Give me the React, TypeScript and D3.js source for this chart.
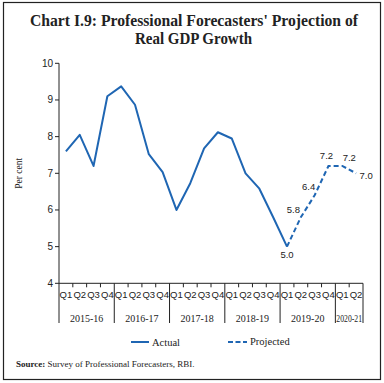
import React from "react";
import * as d3 from "d3";

const years = ["2015-16", "2016-17", "2017-18", "2018-19", "2019-20", "2020-21"];
const quartersPerYear = [4, 4, 4, 4, 4, 2];
const quarterLabels = ["Q1", "Q2", "Q3", "Q4"];
const actual = [7.6, 8.05, 7.2, 9.1, 9.37, 8.87, 7.52, 7.03, 6.0, 6.73, 7.68, 8.12, 7.95, 7.0, 6.58, 5.8, 5.0];
const projected = [5.0, 5.8, 6.4, 7.2, 7.2, 7.0];
const projectedLabels = ["5.0", "5.8", "6.4", "7.2", "7.2", "7.0"];
const yTicks = [4, 5, 6, 7, 8, 9, 10];

const W = 384, H = 383;
const left = 59, right = 363, top = 63.3, bottom = 283.3;
const blue = "#1f66b3";

export default function App() {
  const cats: { key: string; q: string; yi: number }[] = [];
  years.forEach((y, yi) => {
    for (let i = 0; i < quartersPerYear[yi]; i++) cats.push({ key: `${y}-${quarterLabels[i]}`, q: quarterLabels[i], yi });
  });
  const x = d3.scaleBand<string>().domain(cats.map((c) => c.key)).range([left, right]).padding(0);
  const y = d3.scaleLinear().domain([4, 10]).range([bottom, top]);
  const cx = (i: number) => (x(cats[i].key) as number) + x.bandwidth() / 2;

  const line = d3.line<number>().x((_, i) => cx(i)).y((d) => y(d));
  const pOffset = actual.length - 1;
  const pline = d3.line<number>().x((_, i) => cx(i + pOffset)).y((d) => y(d));

  const bw = x.bandwidth();
  const boundaries: number[] = [];
  let idx = 0;
  years.forEach((_, yi) => {
    boundaries.push(x(cats[idx].key) as number);
    idx += quartersPerYear[yi];
  });
  boundaries.push(right);

  const labelOffsets = [
    { dx: 0, dy: 8.5, anchor: "middle" },
    { dx: -7.5, dy: -8, anchor: "middle" },
    { dx: -6, dy: -9, anchor: "middle" },
    { dx: -2, dy: -10, anchor: "middle" },
    { dx: 7, dy: -8, anchor: "middle" },
    { dx: 3.5, dy: 2.5, anchor: "start" },
  ];

  const serif = "'Liberation Serif', 'DejaVu Serif', serif";
  const sans = "'Liberation Sans', 'DejaVu Sans', sans-serif";

  return (
    <svg width={W} height={H} style={{ position: "absolute", left: 0, top: 0, background: "#fff" }}>
      <rect x={3.5} y={2.5} width={377} height={377} fill="#fff" stroke="#222" strokeWidth={1.2} />
      <text x={30} y={25.7} textLength={328} lengthAdjust="spacingAndGlyphs" fontFamily={serif} fontWeight="bold" fontSize={16} fill="#222">
        Chart I.9: Professional Forecasters' Projection of
      </text>
      <text x={135} y={44.3} textLength={117} lengthAdjust="spacingAndGlyphs" fontFamily={serif} fontWeight="bold" fontSize={16} fill="#222">
        Real GDP Growth
      </text>

      {/* y axis */}
      <line x1={left} x2={left} y1={top} y2={bottom} stroke="#222" strokeWidth={1} />
      {yTicks.map((t) => (
        <g key={t}>
          <line x1={left - 4} x2={left} y1={y(t)} y2={y(t)} stroke="#222" />
          <text x={left - 6} y={y(t)} dy="0.35em" textAnchor="end" fontFamily={sans} fontSize={10} fill="#222">
            {t}
          </text>
        </g>
      ))}
      <text transform={`translate(22,${(top + bottom) / 2}) rotate(-90)`} textAnchor="middle" fontFamily={serif} fontSize={9.5} fill="#222">
        Per cent
      </text>

      {/* x axis */}
      <line x1={left} x2={right} y1={bottom} y2={bottom} stroke="#222" />
      {cats.map((c, i) =>
        i > 0 && c.q !== "Q1" ? (
          <line key={"t" + i} x1={x(c.key) as number} x2={x(c.key) as number} y1={bottom} y2={bottom + 4} stroke="#222" />
        ) : null
      )}
      {boundaries.map((b, i) => (
        <line key={"b" + i} x1={b} x2={b} y1={bottom} y2={323} stroke="#222" />
      ))}
      {cats.map((c, i) => (
        <text key={"q" + i} x={cx(i)} y={295} dy="0.35em" textAnchor="middle" fontFamily={sans} fontSize={9.5} fill="#222">
          {c.q}
        </text>
      ))}
      {years.map((yr, yi) => (
        <text
          key={yr}
          x={(boundaries[yi] + boundaries[yi + 1]) / 2}
          y={318}
          dy="0.35em"
          textAnchor="middle"
          fontFamily={serif}
          fontSize={10}
          fill="#222"
          textLength={yi === years.length - 1 ? bw * 2 - 2 : undefined}
          lengthAdjust="spacingAndGlyphs"
        >
          {yr}
        </text>
      ))}

      {/* series */}
      <path d={line(actual) || ""} fill="none" stroke={blue} strokeWidth={2} strokeLinejoin="round" />
      <path d={pline(projected) || ""} fill="none" stroke={blue} strokeWidth={2} strokeDasharray="5,3" />
      {projected.map((v, i) => (
        <text
          key={"l" + i}
          x={cx(i + pOffset) + labelOffsets[i].dx}
          y={y(v) + labelOffsets[i].dy}
          dy="0.35em"
          textAnchor={labelOffsets[i].anchor}
          fontFamily={sans}
          fontSize={9.5}
          fill="#222"
        >
          {projectedLabels[i]}
        </text>
      ))}

      {/* legend */}
      <line x1={131} x2={149} y1={342} y2={342} stroke={blue} strokeWidth={2} />
      <text x={152} y={342} dy="0.35em" fontFamily={serif} fontSize={10.5} fill="#222">Actual</text>
      <line x1={228} x2={247} y1={342} y2={342} stroke={blue} strokeWidth={2} strokeDasharray="5,2.5" />
      <text x={250} y={341} dy="0.35em" fontFamily={serif} fontSize={10.5} fill="#222">Projected</text>

      <text x={16} y={364} dy="0.35em" fontFamily={serif} fontSize={9} fill="#222">
        <tspan fontWeight="bold">Source:</tspan> Survey of Professional Forecasters, RBI.
      </text>
    </svg>
  );
}
